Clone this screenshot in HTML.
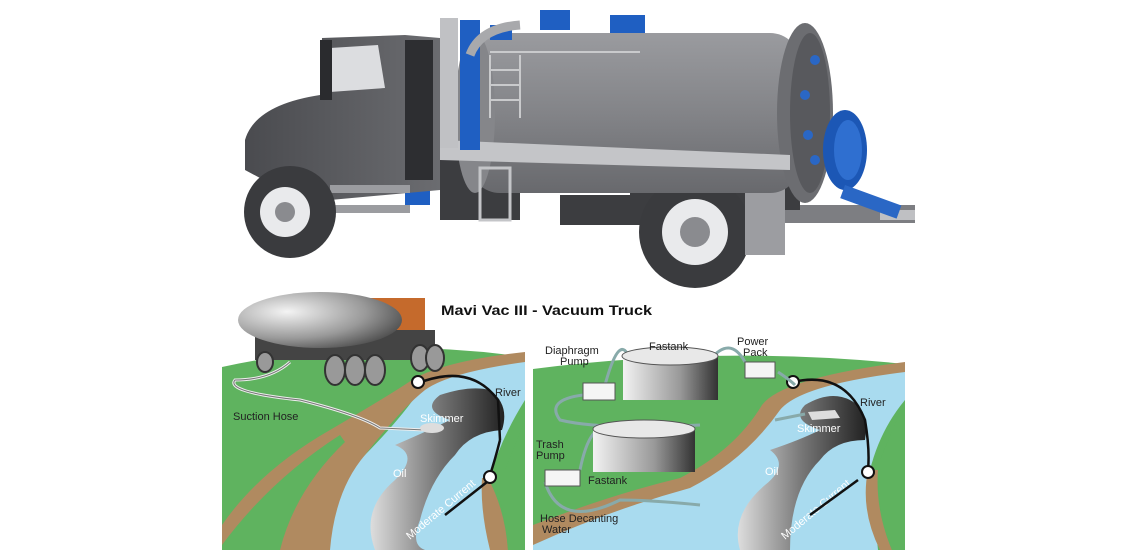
<!DOCTYPE html>
<html><head><meta charset="utf-8"><style>
html,body{margin:0;padding:0;background:#fff;width:1140px;height:550px;overflow:hidden}
svg{display:block}
text{font-family:"Liberation Sans",Arial,sans-serif}
</style></head><body>
<svg width="1140" height="550" viewBox="0 0 1140 550" xmlns="http://www.w3.org/2000/svg">
<defs>
<linearGradient id="tank" x1="0" y1="0" x2="0" y2="1">
<stop offset="0" stop-color="#9a9b9f"/><stop offset="0.5" stop-color="#838488"/><stop offset="1" stop-color="#68696d"/></linearGradient>
<linearGradient id="cab" x1="0" y1="0" x2="1" y2="0">
<stop offset="0" stop-color="#4a4b4f"/><stop offset="1" stop-color="#6b6c70"/></linearGradient>
<linearGradient id="oil" x1="0" y1="0" x2="1" y2="0">
<stop offset="0" stop-color="#ddd"/><stop offset="0.5" stop-color="#777"/><stop offset="1" stop-color="#222"/></linearGradient>
<linearGradient id="ft" x1="0" y1="0" x2="1" y2="0">
<stop offset="0" stop-color="#f2f2f2"/><stop offset="0.6" stop-color="#999"/><stop offset="1" stop-color="#333"/></linearGradient>
<radialGradient id="tk2" cx="0.3" cy="0.35" r="0.8">
<stop offset="0" stop-color="#f4f4f4"/><stop offset="0.6" stop-color="#999"/><stop offset="1" stop-color="#444"/></radialGradient>
</defs>

<!-- ===== TOP TRUCK ===== -->
<rect x="780" y="205" width="135" height="18" fill="#7d7e82"/>
<rect x="880" y="210" width="35" height="10" fill="#bfc0c3"/>
<!-- under chassis -->
<rect x="440" y="160" width="80" height="60" fill="#3c3d40"/>
<rect x="560" y="195" width="90" height="30" fill="#3c3d40"/>
<rect x="630" y="160" width="170" height="50" fill="#3c3d40"/>
<!-- rear wheel -->
<circle cx="695" cy="232" r="56" fill="#3a3b3e"/>
<circle cx="695" cy="232" r="33" fill="#e9eaec"/>
<circle cx="695" cy="232" r="15" fill="#8a8b8f"/>
<rect x="640" y="165" width="110" height="18" fill="#6a6b6f"/>
<rect x="745" y="165" width="40" height="90" fill="#9c9da1"/>
<!-- tank -->
<rect x="470" y="33" width="330" height="160" rx="30" fill="url(#tank)"/>
<ellipse cx="475" cy="113" rx="20" ry="80" fill="#85868a"/>
<ellipse cx="805" cy="113" rx="28" ry="90" fill="#6c6d71"/>
<ellipse cx="810" cy="113" rx="20" ry="80" fill="#58595d"/>
<ellipse cx="845" cy="150" rx="22" ry="40" fill="#1c57b5"/>
<ellipse cx="848" cy="150" rx="14" ry="30" fill="#2f6fd0"/>
<rect x="845" y="185" width="60" height="14" fill="#2a67c5" transform="rotate(20 845 185)"/>
<circle cx="815" cy="60" r="5" fill="#2a67c5"/><circle cx="805" cy="95" r="5" fill="#2a67c5"/>
<circle cx="808" cy="135" r="5" fill="#2a67c5"/><circle cx="815" cy="160" r="5" fill="#2a67c5"/>
<g stroke="#c9cacc" stroke-width="2" fill="none">
<line x1="490" y1="55" x2="490" y2="118"/><line x1="520" y1="55" x2="520" y2="118"/>
<line x1="490" y1="70" x2="520" y2="70"/><line x1="490" y1="85" x2="520" y2="85"/><line x1="490" y1="100" x2="520" y2="100"/>
<line x1="490" y1="52" x2="640" y2="52"/>
</g>
<polygon points="440,140 790,155 790,170 440,160" fill="#c4c5c8"/>
<rect x="480" y="168" width="30" height="52" fill="none" stroke="#c4c5c8" stroke-width="3"/>
<rect x="460" y="20" width="20" height="130" fill="#1f5fc2"/>
<rect x="440" y="18" width="18" height="130" fill="#c0c1c4"/>
<rect x="490" y="25" width="22" height="15" fill="#1f5fc2"/>
<rect x="540" y="10" width="30" height="20" fill="#1f5fc2"/>
<rect x="610" y="15" width="35" height="18" fill="#1f5fc2"/>
<path d="M470 55 Q480 28 520 25" stroke="#a8a9ac" stroke-width="9" fill="none"/>
<rect x="405" y="160" width="25" height="45" fill="#1f5fc2"/>
<!-- cab -->
<path d="M245 170 L245 140 Q255 105 320 95 L322 38 L405 35 L440 38 L440 190 L330 200 Q300 165 260 178 Z" fill="url(#cab)"/>
<polygon points="330,48 378,45 385,88 330,92" fill="#dcdde0"/>
<rect x="320" y="40" width="12" height="60" fill="#2a2b2e"/>
<rect x="405" y="40" width="28" height="140" fill="#2d2e31"/>
<rect x="330" y="205" width="80" height="8" fill="#9b9ca0"/>
<rect x="330" y="185" width="80" height="8" fill="#9b9ca0"/>
<circle cx="290" cy="212" r="46" fill="#3a3b3e"/>
<circle cx="285" cy="212" r="25" fill="#e9eaec"/>
<circle cx="285" cy="212" r="10" fill="#8a8b8f"/>

<!-- ===== BOTTOM LEFT PANEL ===== -->
<path d="M222 367 Q370 335 525 357 L525 550 L222 550 Z" fill="#5fb35f"/>
<path d="M330 550 Q320 500 360 460 Q400 420 420 390 Q440 372 525 360 L525 400 Q500 440 490 478 L490 550 Z" fill="#a9dbef"/>
<path d="M222 525 Q260 470 330 430 Q390 395 415 378 Q450 360 525 352 L525 362 Q450 372 425 390 Q400 410 365 455 Q335 490 330 550 L222 550 L222 545 Z" fill="#b08a60"/>
<path d="M222 545 Q270 480 340 435 L345 442 Q295 490 280 550 L222 550Z" fill="#5fb35f"/>
<path d="M488 478 Q505 510 508 550 L490 550 Q480 510 482 478Z" fill="#b08a60"/>
<path d="M505 470 L525 420 L525 550 L508 550 Q505 510 493 476Z" fill="#5fb35f"/>
<path d="M375 550 Q360 510 395 480 Q420 455 395 445 Q430 430 450 420 Q420 410 440 395 Q470 385 490 390 Q510 405 502 430 Q470 432 455 455 Q430 480 420 520 Q410 545 425 550Z" fill="url(#oil)"/>
<path d="M416 384 Q470 362 498 400 L500 440" stroke="#111" stroke-width="2.5" fill="none"/>
<path d="M500 440 Q495 460 490 475" stroke="#111" stroke-width="2.5" fill="none"/>
<circle cx="418" cy="382" r="6" fill="#fff" stroke="#111" stroke-width="2"/>
<circle cx="490" cy="477" r="6" fill="#fff" stroke="#111" stroke-width="2"/>
<path d="M290 362 Q270 380 235 380 Q225 392 300 400 Q360 415 380 428 L425 430" stroke="#eee" stroke-width="3" fill="none"/>
<path d="M290 362 Q270 380 235 380 Q225 392 300 400 Q360 415 380 428 L425 430" stroke="#777" stroke-width="1" fill="none"/>
<ellipse cx="432" cy="428" rx="12" ry="5" fill="#ddd"/>
<rect x="370" y="298" width="55" height="50" fill="#c56a2c"/>
<rect x="255" y="330" width="180" height="30" fill="#444"/>
<ellipse cx="320" cy="320" rx="82" ry="28" fill="url(#tk2)"/>
<g fill="#999" stroke="#333" stroke-width="2">
<ellipse cx="335" cy="370" rx="10" ry="15"/><ellipse cx="355" cy="370" rx="10" ry="15"/><ellipse cx="375" cy="370" rx="10" ry="15"/>
<ellipse cx="420" cy="358" rx="9" ry="13"/><ellipse cx="435" cy="358" rx="9" ry="13"/><ellipse cx="265" cy="362" rx="8" ry="10"/>
</g>
<text x="441" y="315" font-size="14" font-weight="bold" fill="#111" textLength="211" lengthAdjust="spacingAndGlyphs">Mavi Vac III - Vacuum Truck</text>
<g font-size="11" fill="#222">
<text x="233" y="420">Suction Hose</text>
<text x="495" y="396">River</text>
</g>
<g font-size="11" fill="#fff">
<text x="420" y="422">Skimmer</text>
<text x="393" y="477">Oil</text>
<text x="0" y="0" transform="translate(410 540) rotate(-40)">Moderate Current</text>
</g>
<line x1="445" y1="515" x2="487" y2="482" stroke="#111" stroke-width="2.5"/>

<!-- ===== BOTTOM RIGHT PANEL ===== -->
<path d="M533 369 Q720 345 905 364 L905 550 L533 550 Z" fill="#5fb35f"/>
<path d="M533 540 Q600 510 680 485 Q740 450 770 410 Q790 385 905 368 L905 400 Q880 430 870 470 L878 550 L533 550Z" fill="#a9dbef"/>
<path d="M533 525 Q610 495 680 478 Q735 450 762 405 Q782 378 905 362 L905 372 Q800 385 780 410 Q745 460 690 488 Q610 510 533 545Z" fill="#b08a60"/>
<path d="M868 470 Q860 510 880 550 L892 550 Q875 510 878 470Z" fill="#b08a60"/>
<path d="M880 460 L905 400 L905 550 L892 550 Q875 510 880 470Z" fill="#5fb35f"/>
<path d="M740 550 Q730 515 765 485 Q790 465 770 450 Q800 440 820 430 Q790 420 805 405 Q830 390 850 400 Q870 410 865 440 Q835 440 820 460 Q790 490 790 550Z" fill="url(#oil)"/>
<path d="M793 382 Q845 370 865 420 Q870 450 868 470" stroke="#111" stroke-width="2.5" fill="none"/>
<circle cx="793" cy="382" r="6" fill="#fff" stroke="#111" stroke-width="2"/>
<circle cx="868" cy="472" r="6" fill="#fff" stroke="#111" stroke-width="2"/>
<polygon points="808,412 835,410 840,418 812,420" fill="#ddd"/>
<g stroke="#8aa" stroke-width="3" fill="none">
<path d="M605 385 Q620 330 630 360"/>
<path d="M710 360 Q730 335 745 362"/>
<path d="M583 395 Q545 400 560 420 Q600 430 700 425"/>
<path d="M580 470 Q590 420 610 430"/>
<path d="M545 482 Q560 530 620 500 Q650 500 700 505"/>
<path d="M778 372 Q790 380 795 385"/>
<path d="M775 420 L805 414"/>
</g>
<rect x="623" y="355" width="95" height="45" fill="url(#ft)"/>
<ellipse cx="670" cy="356" rx="48" ry="9" fill="#e8e8e8" stroke="#555"/>
<rect x="593" y="428" width="102" height="44" fill="url(#ft)"/>
<ellipse cx="644" cy="429" rx="51" ry="9" fill="#e8e8e8" stroke="#555"/>
<rect x="583" y="383" width="32" height="17" fill="#f5f5f5" stroke="#555"/>
<rect x="745" y="362" width="30" height="16" fill="#f5f5f5" stroke="#555"/>
<rect x="545" y="470" width="35" height="16" fill="#f5f5f5" stroke="#555"/>
<g font-size="11" fill="#222">
<text x="545" y="354">Diaphragm</text><text x="560" y="365">Pump</text>
<text x="649" y="350">Fastank</text>
<text x="737" y="345">Power</text><text x="743" y="356">Pack</text>
<text x="536" y="448">Trash</text><text x="536" y="459">Pump</text>
<text x="588" y="484">Fastank</text>
<text x="540" y="522">Hose Decanting</text><text x="542" y="533">Water</text>
<text x="860" y="406">River</text>
</g>
<g font-size="11" fill="#fff">
<text x="797" y="432">Skimmer</text>
<text x="765" y="475">Oil</text>
<text x="0" y="0" transform="translate(785 540) rotate(-40)">Moderate Current</text>
</g>
<line x1="810" y1="515" x2="858" y2="480" stroke="#111" stroke-width="2.5"/>
</svg>
</body></html>
